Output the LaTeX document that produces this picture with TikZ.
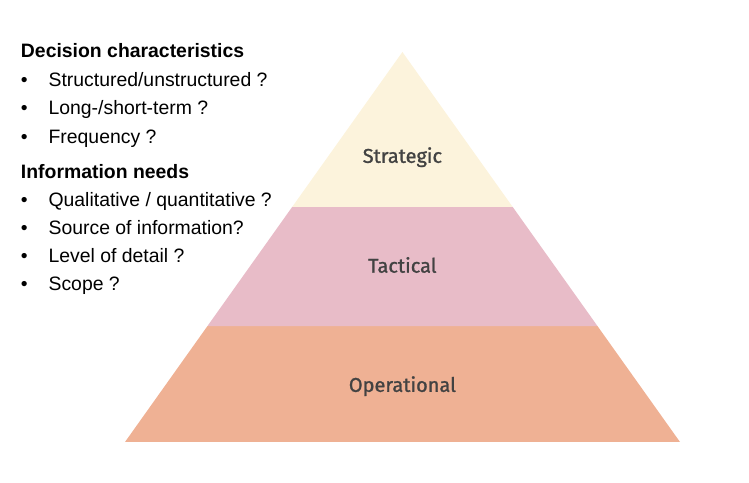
\documentclass[tikz,border=0pt]{standalone}
\usepackage{fontspec}
\setmainfont{Liberation Sans}
\newfontfamily\tierfont[FakeBold=1.2]{Fira Sans}
\usetikzlibrary{calc}
\definecolor{stratfill}{RGB}{252,243,220}
\definecolor{tactfill}{RGB}{232,188,200}
\definecolor{operfill}{RGB}{239,177,148}
\definecolor{tiertext}{RGB}{66,66,66}
\tikzset{
  heading/.style={anchor=base west,inner sep=0pt,font=\fontsize{13.8}{16}\selectfont\bfseries},
  item/.style={anchor=base west,inner sep=0pt,font=\fontsize{13.8}{16}\selectfont},
  tier/.style={text=tiertext,font=\tierfont\fontsize{14.2}{16}\selectfont}
}
\begin{document}
\begin{tikzpicture}[line join=round]
  \useasboundingbox (0,0) rectangle (18.725,12.075);
  % pyramid corners
  \coordinate (apex) at (10.06,10.775);
  \coordinate (bl) at (3.125,1.025);
  \coordinate (br) at (17.0,1.025);
  \coordinate (l1) at ($(bl)!0.2974!(apex)$);
  \coordinate (r1) at ($(br)!0.2974!(apex)$);
  \coordinate (l2) at ($(bl)!0.6026!(apex)$);
  \coordinate (r2) at ($(br)!0.6026!(apex)$);
  \fill[operfill] (bl) -- (br) -- (r1) -- (l1) -- cycle;
  \fill[tactfill] (l1) -- (r1) -- (r2) -- (l2) -- cycle;
  \fill[stratfill] (l2) -- (r2) -- (apex) -- cycle;
  \node[tier] (strat) at (10.06,8.145) {Strategic};
  \node[tier] (tact) at (10.06,5.45) {Tactical};
  \node[tier] (oper) at (10.06,2.42) {Operational};
  % left hand list
  \node[heading] (dechead) at (0.5175,10.625) {Decision characteristics};
  \node[item] (b1) at (0.5175,9.92) {\textbullet};
  \node[item] (i1) at (1.2075,9.92) {Structured/unstructured ?};
  \node[item] (b2) at (0.5175,9.20) {\textbullet};
  \node[item] (i2) at (1.2075,9.20) {Long-/short-term ?};
  \node[item] (b3) at (0.5175,8.49) {\textbullet};
  \node[item] (i3) at (1.2075,8.49) {Frequency ?};
  \node[heading] (infhead) at (0.5175,7.60) {Information needs};
  \node[item] (b4) at (0.5175,6.91) {\textbullet};
  \node[item] (i4) at (1.2075,6.91) {Qualitative / quantitative ?};
  \node[item] (b5) at (0.5175,6.20) {\textbullet};
  \node[item] (i5) at (1.2075,6.20) {Source of information?};
  \node[item] (b6) at (0.5175,5.50) {\textbullet};
  \node[item] (i6) at (1.2075,5.50) {Level of detail ?};
  \node[item] (b7) at (0.5175,4.80) {\textbullet};
  \node[item] (i7) at (1.2075,4.80) {Scope ?};
\end{tikzpicture}
\end{document}
